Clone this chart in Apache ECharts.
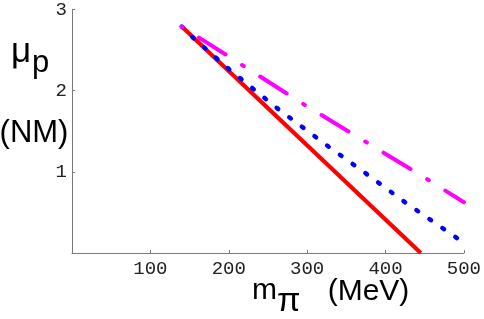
<!DOCTYPE html>
<html>
<head>
<meta charset="utf-8">
<script src="https://cdn.jsdelivr.net/npm/echarts@6/dist/echarts.min.js"></script>
<style>
html,body{margin:0;padding:0;background:#fff;}
#c{width:484px;height:319px;}
</style>
</head>
<body>
<div id="c"></div>
<script>
// x: pion mass m_pi (MeV); y: proton magnetic moment mu_p (NM)
const xTicks = [100, 200, 300, 400, 500];
const yTicks = [1, 2, 3];

const redX = [140, 445];
const redY = [2.79, 0];

const blueX = [140, 155.4, 201.2, 263.4, 327.3, 376.1, 424.7, 491.1, 500];
const blueY = [2.79, 2.644, 2.258, 1.771, 1.311, 0.971, 0.627, 0.184, 0.125];

const magX = [140, 293.5, 448, 500];
const magY = [2.79, 1.845, 0.94, 0.625];

const zip = (xs, ys) => xs.map((x, i) => [x, ys[i]]);

const chart = echarts.init(document.getElementById('c'), null, {renderer: 'canvas'});

const axisCommon = {
  splitLine: {show: false},
  axisLine: {lineStyle: {color: '#7a7a7a', width: 1}},
  axisTick: {inside: true, length: 3, lineStyle: {color: '#7a7a7a'}},
  axisLabel: {fontFamily: 'Liberation Mono', fontSize: 19, color: '#222'}
};

chart.setOption({
  animation: false,
  backgroundColor: '#fff',
  grid: {left: 72, right: 19, top: 9, bottom: 66, containLabel: false},
  xAxis: {
    type: 'value', min: 0, max: 500, interval: 100,
    ...axisCommon,
    axisTick: {...axisCommon.axisTick, customValues: xTicks},
    axisLabel: {...axisCommon.axisLabel, customValues: xTicks, margin: 6}
  },
  yAxis: {
    type: 'value', min: 0, max: 3, interval: 1,
    ...axisCommon,
    axisTick: {...axisCommon.axisTick, customValues: yTicks},
    axisLabel: {...axisCommon.axisLabel, customValues: yTicks, margin: 5}
  },
  series: [
    {
      type: 'line', data: zip(redX, redY), showSymbol: false,
      lineStyle: {color: '#ff0000', width: 4.2}
    },
    {
      type: 'line', data: zip(blueX, blueY), showSymbol: false,
      lineStyle: {color: '#0000ff', width: 4.5, type: [2, 13.75], cap: 'round', dashOffset: 1}
    },
    {
      type: 'line', data: zip(magX, magY), showSymbol: false,
      lineStyle: {color: '#ff00ff', width: 4, type: [2, 19.5, 31.5, 19.5], cap: 'round', dashOffset: 1}
    }
  ],
  graphic: [
    {type: 'text', x: 11, y: 52, style: {text: 'μ', font: '35px "Liberation Sans"', fill: '#000', align: 'left', verticalAlign: 'middle'}},
    {type: 'text', x: 32, y: 63, style: {text: 'p', font: '31px "Liberation Sans"', fill: '#000', align: 'left', verticalAlign: 'middle'}},
    {type: 'text', x: 34, y: 133, style: {text: '(NM)', font: '31px "Liberation Sans"', fill: '#000', align: 'center', verticalAlign: 'middle'}},
    {type: 'text', x: 252, y: 291, style: {text: 'm', font: '30px "Liberation Sans"', fill: '#000', align: 'left', verticalAlign: 'middle'}},
    {type: 'text', x: 277, y: 302, style: {text: 'π', font: '34px "Liberation Sans"', fill: '#000', align: 'left', verticalAlign: 'middle'}},
    {type: 'text', x: 368.5, y: 291.5, style: {text: '(MeV)', font: '30px "Liberation Sans"', fill: '#000', align: 'center', verticalAlign: 'middle'}}
  ]
});
</script>
</body>
</html>
